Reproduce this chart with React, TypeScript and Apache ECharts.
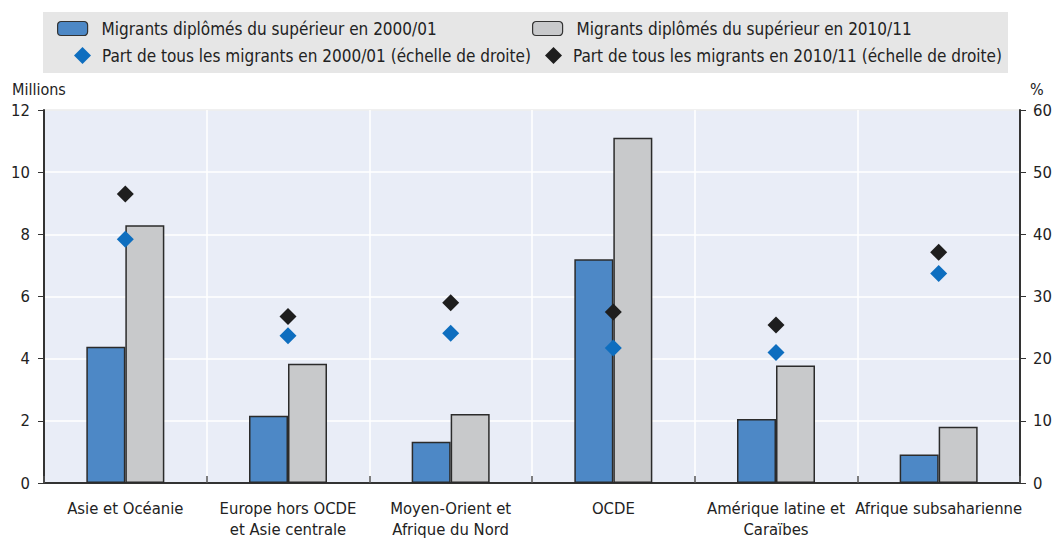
import React, { useEffect, useRef } from "react";
import * as echarts from "echarts";

const categories = [
  "Asie et Océanie",
  "Europe hors OCDE\net Asie centrale",
  "Moyen-Orient et\nAfrique du Nord",
  "OCDE",
  "Amérique latine et\nCaraïbes",
  "Afrique subsaharienne",
];
const migrants2000 = [4.38, 2.16, 1.33, 7.2, 2.06, 0.92];
const migrants2010 = [8.29, 3.84, 2.22, 11.11, 3.78, 1.81];
const share2000 = [39.2, 23.7, 24.1, 21.7, 21.0, 33.7];
const share2010 = [46.5, 26.8, 29.0, 27.5, 25.4, 37.1];

const NAMES = [
  "Migrants diplômés du supérieur en 2000/01",
  "Migrants diplômés du supérieur en 2010/11",
  "Part de tous les migrants en 2000/01 (échelle de droite)",
  "Part de tous les migrants en 2010/11 (échelle de droite)",
];

const FONT = "'Liberation Sans Narrow', 'DejaVu Sans Condensed', 'Liberation Sans', sans-serif";
const TXT = "#222";

export default function App() {
  const ref = useRef<HTMLDivElement>(null);
  useEffect(() => {
    if (!ref.current) return;
    const chart = echarts.init(ref.current, undefined, { renderer: "svg" });
    const legendBase = {
      textStyle: { fontFamily: FONT, fontSize: 17, color: TXT, padding: [0, 0, 0, 9] },
      itemGap: 0,
      padding: 0,
    };
    chart.setOption({
      animation: false,
      textStyle: { fontFamily: FONT },
      graphic: [
        {
          type: "rect",
          shape: { x: 43, y: 12, width: 965, height: 61 },
          style: { fill: "#e6e6e6" },
          z: -10,
        },
        {
          type: "text",
          x: 12,
          y: 81,
          style: { text: "Millions", fontFamily: FONT, fontSize: 16, fill: TXT },
        },
        {
          type: "text",
          x: 1030,
          y: 81,
          style: { text: "%", fontFamily: FONT, fontSize: 16, fill: TXT },
        },
      ],
      legend: [
        {
          ...legendBase,
          data: [NAMES[0]],
          left: 57,
          top: 20,
          itemWidth: 30,
          itemHeight: 14,
          itemStyle: { borderColor: "#333", borderWidth: 1.2 },
        },
        {
          ...legendBase,
          data: [NAMES[1]],
          left: 532,
          top: 20,
          itemWidth: 30,
          itemHeight: 14,
          itemStyle: { borderColor: "#333", borderWidth: 1.2 },
        },
        {
          ...legendBase,
          data: [NAMES[2]],
          left: 74,
          top: 47,
          itemWidth: 17,
          itemHeight: 17,
          icon: "diamond",
          textStyle: { ...legendBase.textStyle, padding: [0, 0, 0, 6] },
        },
        {
          ...legendBase,
          data: [NAMES[3]],
          left: 545,
          top: 47,
          itemWidth: 17,
          itemHeight: 17,
          icon: "diamond",
          textStyle: { ...legendBase.textStyle, padding: [0, 0, 0, 6] },
        },
      ],
      grid: {
        left: 44,
        right: 35,
        top: 110,
        bottom: 52,
        show: true,
        backgroundColor: "#e9edf7",
        borderColor: "#888",
        borderWidth: 1,
      },
      xAxis: {
        type: "category",
        data: categories,
        axisLine: { lineStyle: { color: "#333", width: 2 } },
        axisTick: { show: true, inside: true, length: 7, lineStyle: { color: "#555", width: 1.5 } },
        splitLine: { show: true, interval: 0, lineStyle: { color: "#ffffff", width: 1.5 } },
        axisLabel: {
          interval: 0,
          fontFamily: FONT,
          fontSize: 16.5,
          color: TXT,
          margin: 15,
          lineHeight: 21,
        },
      },
      yAxis: [
        {
          type: "value",
          min: 0,
          max: 12,
          interval: 2,
          axisLine: { show: true, lineStyle: { color: "#333", width: 2 } },
          axisTick: { show: true, length: 6, lineStyle: { color: "#333" } },
          splitLine: { show: true, lineStyle: { color: "#ffffff", width: 1.5 } },
          axisLabel: { fontFamily: FONT, fontSize: 16.5, color: TXT, margin: 14 },
        },
        {
          type: "value",
          min: 0,
          max: 60,
          interval: 10,
          position: "right",
          axisLine: { show: true, lineStyle: { color: "#333", width: 2 } },
          axisTick: { show: true, length: 6, lineStyle: { color: "#333" } },
          splitLine: { show: false },
          axisLabel: { fontFamily: FONT, fontSize: 16.5, color: TXT, margin: 13 },
        },
      ],
      series: [
        {
          name: NAMES[0],
          type: "bar",
          data: migrants2000,
          barWidth: 39,
          barGap: "0%",
          itemStyle: { color: "#4d88c6", borderColor: "#2b2b2b", borderWidth: 1.5 },
        },
        {
          name: NAMES[1],
          type: "bar",
          data: migrants2010,
          barWidth: 39,
          barGap: "0%",
          itemStyle: { color: "#c8c9cb", borderColor: "#2b2b2b", borderWidth: 1.5 },
        },
        {
          name: NAMES[2],
          type: "scatter",
          yAxisIndex: 1,
          data: share2000,
          symbol: "diamond",
          symbolSize: 17,
          itemStyle: { color: "#0e6ebf", opacity: 1 },
          z: 5,
        },
        {
          name: NAMES[3],
          type: "scatter",
          yAxisIndex: 1,
          data: share2010,
          symbol: "diamond",
          symbolSize: 17,
          itemStyle: { color: "#1e1e1e", opacity: 1 },
          z: 5,
        },
      ],
    });
    return () => chart.dispose();
  }, []);
  return (
    <div
      ref={ref}
      style={{ position: "absolute", left: 0, top: 0, width: 1055, height: 540 }}
    />
  );
}
